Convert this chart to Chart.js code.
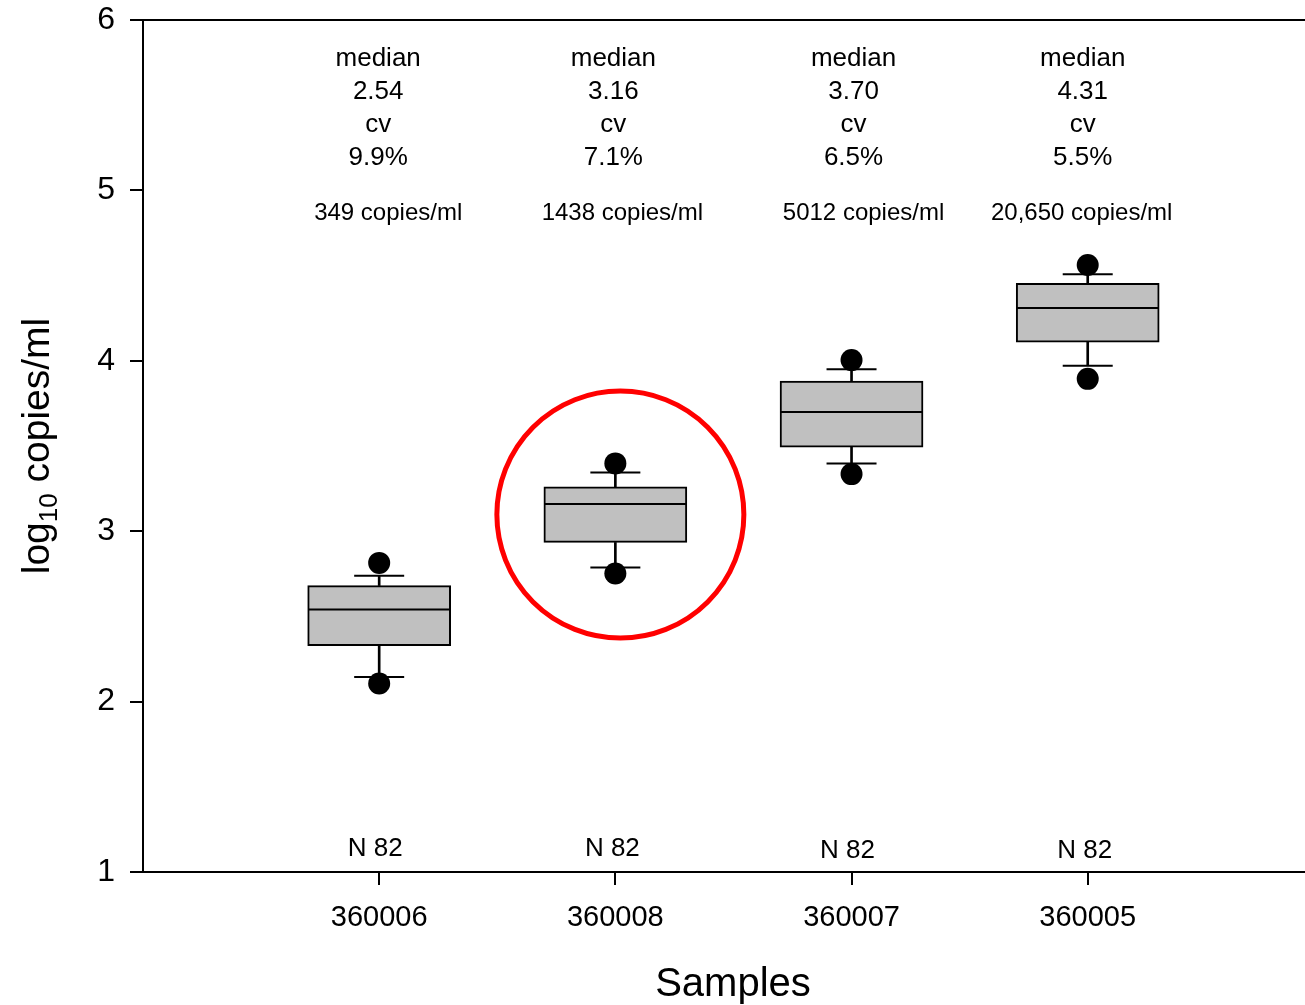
<!DOCTYPE html>
<html>
<head>
<meta charset="utf-8">
<title>log10 copies/ml by sample</title>
<script src="https://cdn.jsdelivr.net/npm/chart.js@4.4.1/dist/chart.umd.min.js"></script>
<style>
  html, body { margin: 0; padding: 0; background: #ffffff; }
  #wrap { width: 1305px; height: 1005px; position: relative; }
</style>
</head>
<body>
<div id="wrap"><canvas id="chart" width="1305" height="1005"></canvas></div>
<script>
// ---- data ----
const samples      = ['360006', '360008', '360007', '360005'];
const positions    = [1, 2, 3, 4];
const q1           = [2.328, 2.934, 3.493, 4.109];
const q3           = [2.681, 3.261, 3.881, 4.455];
const medians      = [2.54, 3.16, 3.70, 4.31];
const whiskerLow   = [2.145, 2.787, 3.398, 3.971];
const whiskerHigh  = [2.738, 3.345, 3.951, 4.508];
const outlierLow   = [2.106, 2.752, 3.335, 3.894];
const outlierHigh  = [2.814, 3.398, 4.004, 4.562];
const medianLabels = ['2.54', '3.16', '3.70', '4.31'];
const cvLabels     = ['9.9%', '7.1%', '6.5%', '5.5%'];
const copiesLabels = ['349 copies/ml', '1438 copies/ml', '5012 copies/ml', '20,650 copies/ml'];
const nLabels      = ['N 82', 'N 82', 'N 82', 'N 82'];
const yTicks       = [1, 2, 3, 4, 5, 6];
const highlighted  = 1; // index of the circled sample

const FONT = 'Arial, "Liberation Sans", Helvetica, sans-serif';

const pts = (vals) => positions.map((x, i) => ({ x, y: vals[i] }));
const rng = (lo, hi) => positions.map((x, i) => ({ x, y: [lo[i], hi[i]] }));

// annotation text, median/cv block, copies line, N line
const textPlugin = {
  id: 'boxText',
  afterDatasetsDraw(chart) {
    const { ctx, scales: { x, y } } = chart;
    const top = chart.chartArea.top;
    const medNudge = [-1, -2, 2, -5];
    const copyNudge = [9, 7, 12, -6];
    const nNudge = [-4, -3, -4, -3];
    ctx.save();
    ctx.fillStyle = '#000';
    ctx.textAlign = 'center';
    ctx.textBaseline = 'alphabetic';
    positions.forEach((p, i) => {
      const cx = x.getPixelForValue(p);
      ctx.font = '26px ' + FONT;
      ctx.fillText('median', cx + medNudge[i], top + 46);
      ctx.fillText(medianLabels[i], cx + medNudge[i], top + 79);
      ctx.fillText('cv', cx + medNudge[i], top + 112);
      ctx.fillText(cvLabels[i], cx + medNudge[i], top + 145);
      ctx.font = '24px ' + FONT;
      ctx.fillText(copiesLabels[i], cx + copyNudge[i], top + 200);
      ctx.font = '26px ' + FONT;
      ctx.fillText(nLabels[i], cx + nNudge[i], y.getPixelForValue(1) - (i < 2 ? 16 : 14));
    });

    // red ring around the highlighted sample
    const hx = x.getPixelForValue(positions[highlighted]) + 5;
    const hy = y.getPixelForValue((q1[highlighted] + q3[highlighted]) / 2);
    ctx.beginPath();
    ctx.strokeStyle = '#ff0000';
    ctx.lineWidth = 5;
    ctx.arc(hx, hy, 123.5, 0, Math.PI * 2);
    ctx.stroke();

    // axis titles
    ctx.font = '40px ' + FONT;
    ctx.textAlign = 'center';
    ctx.fillText('Samples', 733, 996);

    ctx.translate(49, 446);
    ctx.rotate(-Math.PI / 2);
    const main1 = 'log', sub = '10', main2 = ' copies/ml';
    ctx.font = '39px ' + FONT;
    const w1 = ctx.measureText(main1).width;
    const w3 = ctx.measureText(main2).width;
    ctx.font = '26px ' + FONT;
    const w2 = ctx.measureText(sub).width;
    const total = w1 + w2 + w3;
    let sx = -total / 2;
    ctx.textAlign = 'left';
    ctx.font = '39px ' + FONT;
    ctx.fillText(main1, sx, 0);
    sx += w1;
    ctx.font = '26px ' + FONT;
    ctx.fillText(sub, sx, 8);
    sx += w2;
    ctx.font = '39px ' + FONT;
    ctx.fillText(main2, sx, 0);
    ctx.restore();
  }
};

new Chart(document.getElementById('chart'), {
  type: 'bar',
  data: {
    datasets: [
      { // lower whisker stems
        data: rng(whiskerLow, q1), backgroundColor: '#000', borderWidth: 0,
        barThickness: 2, grouped: false, order: 6
      },
      { // upper whisker stems
        data: rng(q3, whiskerHigh), backgroundColor: '#000', borderWidth: 0,
        barThickness: 2, grouped: false, order: 6
      },
      { // interquartile boxes
        data: rng(q1, q3), backgroundColor: '#c0c0c0', borderColor: '#000',
        borderWidth: 2, borderSkipped: false, barThickness: 143, grouped: false, order: 5
      },
      { // medians
        type: 'scatter', data: pts(medians), pointStyle: 'line', pointRadius: 71,
        borderColor: '#000', borderWidth: 2, order: 4
      },
      { // whisker caps
        type: 'scatter', data: pts(whiskerLow).concat(pts(whiskerHigh)), pointStyle: 'line',
        pointRadius: 25, borderColor: '#000', borderWidth: 2, order: 3
      },
      { // outlying points
        type: 'scatter', data: pts(outlierLow).concat(pts(outlierHigh)), pointStyle: 'circle',
        pointRadius: 11, backgroundColor: '#000', borderColor: '#000', borderWidth: 0, order: 2
      }
    ]
  },
  options: {
    responsive: false,
    animation: false,
    events: [],
    layout: { autoPadding: false, padding: { top: 20, right: 0, bottom: 0, left: 0 } },
    plugins: { legend: { display: false }, tooltip: { enabled: false }, title: { display: false } },
    scales: {
      x: {
        type: 'linear', position: 'bottom', min: 0, max: 4.92, offset: false,
        afterBuildTicks: (s) => { s.ticks = positions.map(v => ({ value: v })); },
        afterFit: (s) => { s.height = 133; s.paddingLeft = 0; s.paddingRight = 0; },
        ticks: {
          color: '#000', font: { family: FONT, size: 29 }, padding: 16,
          maxRotation: 0, autoSkip: false,
          callback: (v) => samples[positions.indexOf(v)] ?? ''
        },
        grid: { offset: false, drawOnChartArea: false, drawTicks: true, tickLength: 13, color: '#000', lineWidth: 2 },
        border: { display: true, color: '#000', width: 2 }
      },
      xTop: {
        type: 'linear', position: 'top', min: 0, max: 4.92, offset: false,
        afterFit: (s) => { s.height = 0; s.paddingLeft = 0; s.paddingRight = 0; },
        ticks: { display: false },
        grid: { offset: false, drawOnChartArea: false, drawTicks: false },
        border: { display: true, color: '#000', width: 2 }
      },
      y: {
        type: 'linear', position: 'left', min: 1, max: 6,
        afterBuildTicks: (s) => { s.ticks = yTicks.map(v => ({ value: v })); },
        afterFit: (s) => { s.width = 143; s.paddingTop = 0; s.paddingBottom = 0; },
        ticks: { color: '#000', font: { family: FONT, size: 32 }, padding: 15 },
        grid: { drawOnChartArea: false, drawTicks: true, tickLength: 13, color: '#000', lineWidth: 2 },
        border: { display: true, color: '#000', width: 2 }
      }
    }
  },
  plugins: [textPlugin]
});
</script>
</body>
</html>
